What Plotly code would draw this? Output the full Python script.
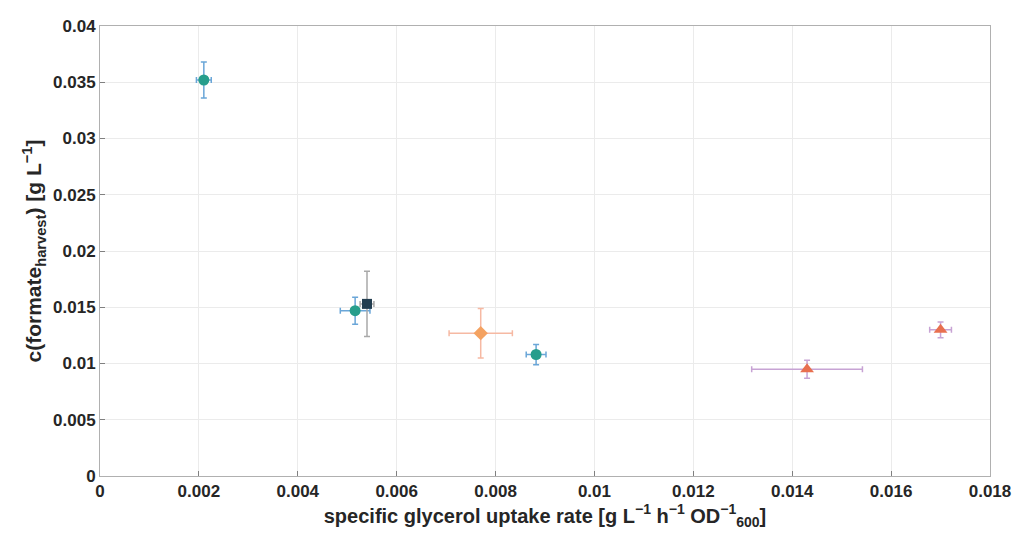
import plotly.graph_objects as go

# data
teal_x = [0.0021, 0.00516, 0.00882]
teal_y = [0.0352, 0.0147, 0.0108]
teal_xerr = [0.00015, 0.0003, 0.0002]
teal_yerr = [0.0016, 0.0012, 0.0009]

square_x = [0.0054]
square_y = [0.0153]
square_xerr = [0.00014]
square_yerr = [0.0029]

diamond_x = [0.0077]
diamond_y = [0.0127]
diamond_xerr = [0.00064]
diamond_yerr = [0.0022]

tri_x = [0.0143, 0.0170]
tri_y = [0.0095, 0.0130]
tri_xerr = [0.00112, 0.00022]
tri_yerr = [0.0008, 0.0007]

x_ticks = [0, 0.002, 0.004, 0.006, 0.008, 0.01, 0.012, 0.014, 0.016, 0.018]
x_ticklabels = ["0", "0.002", "0.004", "0.006", "0.008", "0.01", "0.012", "0.014", "0.016", "0.018"]
y_ticks = [0, 0.005, 0.01, 0.015, 0.02, 0.025, 0.03, 0.035, 0.04]
y_ticklabels = ["0", "0.005", "0.01", "0.015", "0.02", "0.025", "0.03", "0.035", "0.04"]

fig = go.Figure()

def add(xs, ys, xe, ye, sym, col, ecol, size):
    fig.add_trace(go.Scatter(
        x=xs, y=ys, mode="markers",
        marker=dict(symbol=sym, color=col, size=size, line=dict(width=0)),
        error_x=dict(type="data", array=xe, color=ecol, thickness=1.5, width=3),
        error_y=dict(type="data", array=ye, color=ecol, thickness=1.5, width=3),
        showlegend=False,
    ))

add(teal_x, teal_y, teal_xerr, teal_yerr, "circle", "#279e8c", "#6aa6d8", 11)
add(square_x, square_y, square_xerr, square_yerr, "square", "#233e50", "#a9a9a9", 10)
add(diamond_x, diamond_y, diamond_xerr, diamond_yerr, "diamond", "#f4a261", "#f6b9a3", 11)
add(tri_x, tri_y, tri_xerr, tri_yerr, "triangle-up", "#e8704f", "#c7a3d4", 12)

font_axis = dict(family="Arial, Liberation Sans, sans-serif", size=17, color="#262626")

fig.update_layout(
    width=1014, height=541,
    margin=dict(l=100, r=24, t=26, b=65, autoexpand=False),
    paper_bgcolor="white", plot_bgcolor="white",
    font=font_axis,
)
fig.update_xaxes(
    range=[0, 0.018], tickvals=x_ticks, ticktext=["<b>%s</b>" % t for t in x_ticklabels],
    showgrid=True, gridcolor="#ebebeb", gridwidth=1,
    showline=True, linecolor="#b0b0b0", linewidth=1, mirror=True,
    ticks="inside", ticklen=5, tickcolor="#808080", zeroline=False,
    automargin=False,
    title=dict(text="<b>specific glycerol uptake rate [g L<sup>−1</sup> h<sup>−1</sup> OD<sup>−1</sup><sub>600</sub>]</b>",
               font=dict(size=20), standoff=5),
)
fig.update_yaxes(
    range=[0, 0.04], tickvals=y_ticks, ticktext=["<b>%s</b>" % t for t in y_ticklabels],
    showgrid=True, gridcolor="#ebebeb", gridwidth=1,
    showline=True, linecolor="#b0b0b0", linewidth=1, mirror=True,
    ticks="inside", ticklen=5, tickcolor="#808080", zeroline=False,
    automargin=False,
    title=dict(text="<b>c(formate<sub>harvest</sub>) [g L<sup>−1</sup>]</b>", font=dict(size=21), standoff=5),
)

fig.write_html("out.html", config={"displayModeBar": False},
               post_script="document.body.style.margin='0';document.body.style.overflow='hidden';")
